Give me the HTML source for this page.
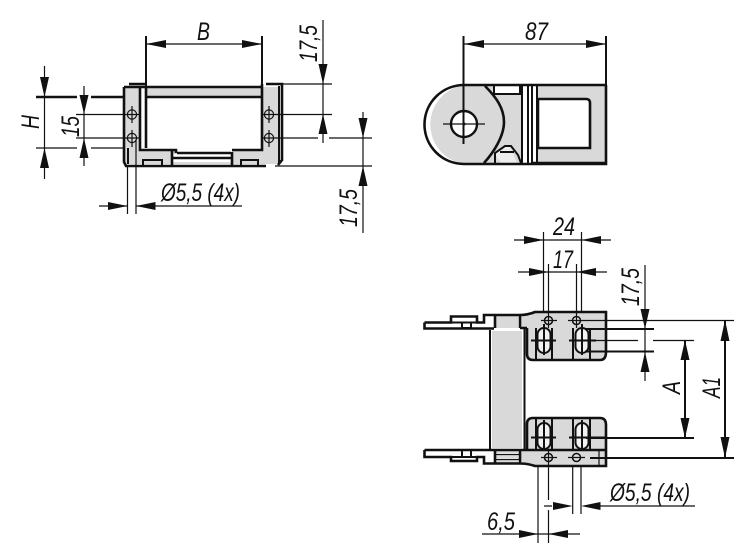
<!DOCTYPE html>
<html>
<head>
<meta charset="utf-8">
<style>
html,body{margin:0;padding:0;background:#fff;width:750px;height:559px;overflow:hidden}
svg{display:block}
text{font-family:"Liberation Sans",sans-serif;font-style:italic;font-size:25px;fill:#111}
.t{stroke:#111;stroke-width:1.2;fill:none}
.m{stroke:#111;stroke-width:2;fill:none}
.h{stroke:#111;stroke-width:2.6;fill:none}
.g{fill:#d9d9d9;stroke:none}
.w{fill:#fff;stroke:none}
.a{fill:#111;stroke:none}
</style>
</head>
<body>
<svg width="750" height="559" viewBox="0 0 750 559" xmlns="http://www.w3.org/2000/svg">
<rect width="750" height="559" fill="#fff"/>

<!-- LEFT VIEW -->
<path class="g" d="M125 87H140V150H177V153H232V150H262V87H279V164H125Z"/>
<path class="g" d="M146 87H262V96H146Z"/>
<path class="w" d="M141 87H146V149H141Z"/>
<path class="w" d="M173 154H231V157H173ZM173 159H231V162H173Z"/>
<path class="h" d="M124 87V162L126 166H172M172 149V166M140 86V150H176V153M146 86V148"/>
<path class="h" d="M129 84H146M124 87H262M146 97H262"/>
<path class="h" d="M177 153H231M172 158H231M172 166H266M232 152V166M232 150H262V84M266 84H282V160L278 165"/>
<path class="m" d="M279 86V163"/>
<path class="m" d="M143 166V160H162V166M241 166V160H258V166"/>
<path class="m" d="M128 148V164"/>
<!-- holes -->
<g class="t" stroke-width="1.4">
<circle cx="132" cy="114.5" r="4.6"/><circle cx="132" cy="138" r="4.6"/>
<circle cx="269" cy="114.5" r="4.6"/><circle cx="269" cy="138" r="4.6"/>
<path d="M132 106V123M132 130V147M269 106V123M269 130V147"/>
</g>
<!-- dims left -->
<path class="t" d="M44.500 66V179"/>
<path class="h" d="M36 97H77M91 97H124"/>
<path class="t" d="M36 148H77M91 148H124M84 86V166M76 114.500H140M76 138H140"/>
<path class="a" d="M44.500 97L40 77H49ZM44.500 148L40 168H49ZM84 114L79.500 95H88.500ZM84 138L79.500 158H88.500Z"/>
<path class="t" d="M127.500 166V214M136 140V214M99 206H127.500M136 206H242"/>
<path class="a" d="M127.500 206L108 202V210ZM136 206L155.500 202V210Z"/>
<path class="m" d="M146 36V97M262 36V86"/>
<path class="t" d="M146 44H262"/>
<path class="a" d="M146 44L166 40V48ZM262 44L242 40V48Z"/>
<path class="t" d="M282 84H332M262 114.500H332M262 138H318M329 138H372M275 166H372M323 20V143M363 112V233"/>
<path class="a" d="M323 84L318.500 64H327.500ZM323 114L318.500 134H327.500ZM363 138L358.500 118H367.500ZM363 166L358.500 186H367.500Z"/>
<text x="197" y="40" textLength="13" lengthAdjust="spacingAndGlyphs">B</text>
<text transform="translate(39 129) rotate(-90)" textLength="14" lengthAdjust="spacingAndGlyphs">H</text>
<text transform="translate(79 137) rotate(-90)" textLength="21" lengthAdjust="spacingAndGlyphs">15</text>
<text transform="translate(317 62) rotate(-90)" textLength="37" lengthAdjust="spacingAndGlyphs">17,5</text>
<text transform="translate(357 227) rotate(-90)" textLength="38" lengthAdjust="spacingAndGlyphs">17,5</text>
<text x="161" y="201" textLength="79" lengthAdjust="spacingAndGlyphs">Ø5,5 (4x)</text>

<!-- TOP RIGHT VIEW -->
<path class="g" d="M606 85V164H464A40 40 0 0 1 464 85Z"/>
<path class="w" d="M538 99H586Q590 99 590 103V148H542Q538 148 538 144Z"/>
<path class="w" d="M523 86H527V163H523ZM529 86H532V163H529ZM533 86H536V163H533Z"/>
<path class="w" d="M494 86H520V94H494Z"/>
<path class="w" fill-opacity=".55" d="M495 154L501 163H517L510 147H504Z"/>
<path class="h" d="M606 85H464A39.500 39.500 0 0 0 464 164H606V85"/>
<path class="h" d="M485 86C496 97 504 108 504 122C504 136 494 152 484 163"/>
<path class="h" d="M538 99H586Q590 99 590 103V148H538V99"/>
<path class="m" d="M494 86V94H520V86M522 85V164M528 85V164M532 85V164M537 85V164"/>
<path class="m" d="M495 164V153L505 146H511L518 155L521 163M500 152H514"/>
<path class="h" d="M532 163H606"/>
<circle cx="464" cy="124" r="13" fill="#fff" stroke="#111" stroke-width="2.4"/>
<path class="t" d="M443 124H485"/>
<path class="m" d="M463.500 36V144"/>
<path class="t" d="M463.500 44H606"/>
<path class="m" d="M606 36V85"/>
<path class="a" d="M464 44L484 40V48ZM606 44L586 40V48Z"/>
<circle cx="464" cy="124" r="1.500" fill="#111"/>
<text x="525" y="40" textLength="23" lengthAdjust="spacingAndGlyphs">87</text>

<!-- BOTTOM RIGHT VIEW -->
<rect x="490" y="330" width="34" height="119" fill="#fff"/>
<rect x="492" y="331" width="30" height="117" fill="#d9d9d9"/>
<path class="m" d="M490 330V450M524.500 328V450"/>
<!-- top -->
<path class="g" d="M495 315H518V328H495ZM520 316H530L537 312H606V350Q606 360 600 360H532Q527 360 527 354V328H520Z"/>
<path class="w" d="M425 323H484V328H425Z"/>
<path class="h" d="M424.500 322.500V328.500H494M424.500 322.500H451V316.500H477V322.500H484V315H520Q528 315 535 312H606V352Q606 360 600 360H533Q527 360 527 354V328M495 315V328M520 315V328M520 328H527"/>
<path class="m" d="M451 322.500H477M462 323V328H471V323"/>
<!-- bottom -->
<path class="g" d="M527 426Q527 418 533 418H600Q606 418 606 425V466H536L528 463H520V450H527ZM495 450H518V463H495Z"/>
<path class="w" d="M495 453H518V455H495ZM495 458H518V460H495Z"/>
<path class="w" d="M425 451H484V456H425Z"/>
<path class="h" d="M424.500 450V457H451V461H477V457H484V463.500H520Q528 463.500 535 466H606V425Q606 418 600 418H533Q527 418 527 424V450M424.500 450H527M527 450H606M495 450V464M520 450V464"/>
<path class="m" d="M451 457H477M462 450V457H471V450"/>
<path class="t" d="M495 454.500H520M495 459.500H520M599 450V466"/>
<!-- vertical lines in blocks -->
<path class="m" d="M536 328V360M552 328V360M573 328V360M590 328V360M536 418V450M552 418V450M573 418V450M590 418V450"/>
<!-- slots -->
<g fill="#f2f2f2" stroke="#111" stroke-width="2">
<rect x="537.500" y="328" width="13" height="25" rx="6.500"/>
<rect x="575.500" y="328" width="13" height="25" rx="6.500"/>
<rect x="537.500" y="423" width="13" height="26" rx="6.500"/>
<rect x="575.500" y="423" width="13" height="26" rx="6.500"/>
</g>
<path class="m" d="M544 324V355M582 324V355M544 420V451M582 420V451"/>
<path class="m" d="M531 340.500H556M569 340.500H596M531 437.500H556M569 437.500H606"/>
<!-- small holes -->
<g fill="#ddd" stroke="#111" stroke-width="1.500">
<circle cx="548.500" cy="320.500" r="4"/><circle cx="576.500" cy="320.500" r="4"/>
<circle cx="548.500" cy="457.500" r="4"/><circle cx="576.500" cy="457.500" r="4"/>
</g>
<path class="t" d="M541 320.500H557M568 320.500H585M541 457.500H557M568 457.500H585"/>
<path class="t" d="M548.500 264V328M576.500 264V328M543.500 232V312M581.500 232V312"/>
<path class="t" d="M548.500 450V500M548.500 510V543M538 466V543M572.700 466V514M581 466V514"/>
<!-- ext right -->
<path class="t" d="M585 320.500H734M590 340.500H638M653 340.500H694"/>
<path class="m" d="M585 329H654M585 351.500H654M586 438H694M590 458H734"/>
<path class="t" d="M645 265V381"/>
<path class="m" d="M685 340V438M725 320V458"/>
<path class="a" d="M645 329L640.500 309H649.500ZM645 352L640.500 372H649.500ZM685 340L680.500 360H689.500ZM685 438L680.500 418H689.500ZM725 320L720.500 341H729.500ZM725 458L720.500 437H729.500Z"/>
<!-- dims top -->
<path class="t" d="M514 240H611M518 272H607"/>
<path class="a" d="M543.500 240L524 236V244ZM581.500 240L601 236V244ZM548.500 272L529 268V276ZM576.500 272L596 268V276Z"/>
<!-- dims bottom -->
<path class="t" d="M544 506H552M600 506H695M482 534H580"/>
<path class="a" d="M572.700 506L553 502V510ZM581 506L600.500 502V510ZM538 534L519 530V538ZM548.500 534L568 530V538Z"/>
<text x="553" y="235" textLength="22" lengthAdjust="spacingAndGlyphs">24</text>
<text x="553" y="268" textLength="20" lengthAdjust="spacingAndGlyphs">17</text>
<text x="487" y="530" textLength="28" lengthAdjust="spacingAndGlyphs">6,5</text>
<text x="610" y="501" textLength="80" lengthAdjust="spacingAndGlyphs">Ø5,5 (4x)</text>
<text transform="translate(639 306) rotate(-90)" textLength="38" lengthAdjust="spacingAndGlyphs">17,5</text>
<text transform="translate(680 394) rotate(-90)" textLength="13" lengthAdjust="spacingAndGlyphs">A</text>
<text transform="translate(720 398) rotate(-90)" textLength="21" lengthAdjust="spacingAndGlyphs">A1</text>
</svg>
</body>
</html>
